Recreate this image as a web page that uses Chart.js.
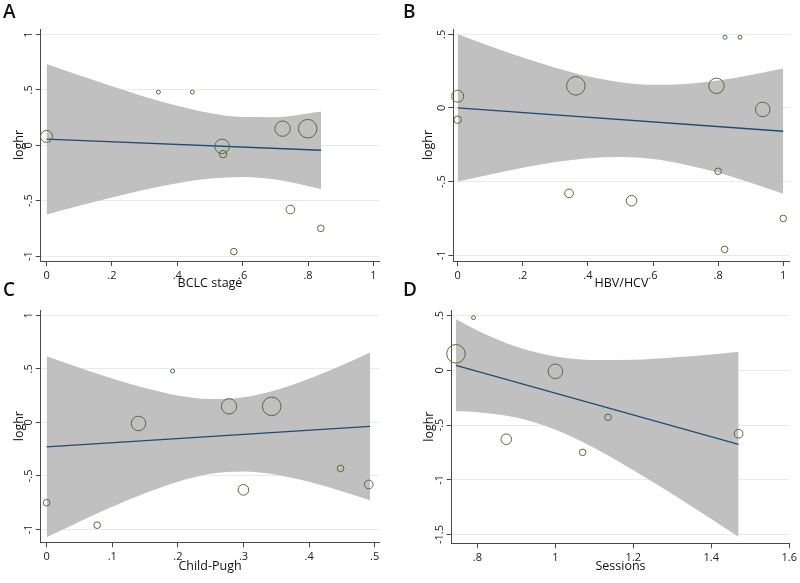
<!DOCTYPE html>
<html>
<head>
<meta charset="utf-8">
<script src="https://cdn.jsdelivr.net/npm/chart.js@4.4.1/dist/chart.umd.min.js"></script>
<style>
  body { margin: 0; background: #fff; width: 800px; height: 583px; position: relative; overflow: hidden; }
  .panel { position: absolute; }
  .tag { position: absolute; font: 600 19px "Open Sans", sans-serif; color: #111; line-height: 1; }
</style>
</head>
<body>
<div class="panel" style="left:0;top:0"><canvas id="chartA" width="400" height="290"></canvas></div>
<div class="panel" style="left:400px;top:0"><canvas id="chartB" width="400" height="290"></canvas></div>
<div class="panel" style="left:0;top:290px"><canvas id="chartC" width="400" height="293"></canvas></div>
<div class="panel" style="left:400px;top:290px"><canvas id="chartD" width="400" height="293"></canvas></div>
<div class="tag" style="left:3px;top:2px">A</div>
<div class="tag" style="left:403px;top:2px">B</div>
<div class="tag" style="left:3px;top:280px">C</div>
<div class="tag" style="left:403px;top:280px">D</div>
<script>
// ===== STUDY DATA (one entry per study) =====
const studyLoghr  = [0.48, 0.48, 0.15, 0.15, 0.08, -0.01, -0.08, -0.58, -0.63, -0.43, -0.75, -0.96];
const studyWeight = [4, 4, 86, 59, 36, 53, 14, 19, 28, 11, 11, 11];

// covariates (null = not reported)
const bclcStage = [0.342, 0.446, 0.799, 0.722, 0, 0.537, 0.54, 0.746, null, null, 0.839, 0.573];
const hbvHcv    = [0.821, 0.867, 0.363, 0.795, 0, 0.937, 0, 0.342, 0.534, 0.8, 1.0, 0.82];
const childPugh = [0.192, null, 0.343, 0.278, null, 0.14, null, 0.491, 0.3, 0.448, 0, 0.077];
const sessions  = [0.79, null, 0.745, null, null, 1.0, null, 1.47, 0.874, 1.135, 1.07, null];

// ===== FITTED LINES AND CONFIDENCE BANDS =====
const bclcFitX = [0, 0.84];
const bclcFitY = [0.055, -0.045];
const bclcBandX  = [0, 0.1, 0.2, 0.3, 0.4, 0.5, 0.6, 0.7, 0.84];
const bclcBandHi = [0.735, 0.632, 0.533, 0.439, 0.356, 0.291, 0.255, 0.254, 0.305];
const bclcBandLo = [-0.625, -0.546, -0.471, -0.401, -0.342, -0.301, -0.287, -0.31, -0.395];

const hbvFitX = [0, 1];
const hbvFitY = [0, -0.158];
const hbvBandX  = [0, 0.1, 0.2, 0.3, 0.4, 0.5, 0.6, 0.7, 0.8, 0.9, 1];
const hbvBandHi = [0.5, 0.419, 0.342, 0.273, 0.215, 0.175, 0.157, 0.163, 0.187, 0.224, 0.267];
const hbvBandLo = [-0.5, -0.451, -0.406, -0.367, -0.341, -0.333, -0.347, -0.385, -0.439, -0.508, -0.583];

const cpFitX = [0, 0.493];
const cpFitY = [-0.228, -0.037];
const cpBandX  = [0, 0.05, 0.1, 0.15, 0.2, 0.25, 0.3, 0.35, 0.4, 0.45, 0.493];
const cpBandHi = [0.617, 0.51, 0.411, 0.322, 0.252, 0.218, 0.234, 0.302, 0.408, 0.534, 0.653];
const cpBandLo = [-1.073, -0.928, -0.789, -0.662, -0.554, -0.48, -0.458, -0.488, -0.554, -0.642, -0.727];

const sesFitX = [0.745, 1.47];
const sesFitY = [0.045, -0.676];
const sesBandX  = [0.745, 0.8, 0.9, 1.0, 1.1, 1.2, 1.3, 1.4, 1.47];
const sesBandHi = [0.465, 0.363, 0.214, 0.126, 0.094, 0.096, 0.116, 0.144, 0.169];
const sesBandLo = [-0.375, -0.383, -0.432, -0.544, -0.71, -0.912, -1.13, -1.358, -1.521];

// ===== TICKS =====
const xTicksA = [0, 0.2, 0.4, 0.6, 0.8, 1];
const yTicksA = [-1, -0.5, 0, 0.5, 1];
const xTicksB = [0, 0.2, 0.4, 0.6, 0.8, 1];
const yTicksB = [-1, -0.5, 0, 0.5];
const xTicksC = [0, 0.1, 0.2, 0.3, 0.4, 0.5];
const yTicksC = [-1, -0.5, 0, 0.5, 1];
const xTicksD = [0.8, 1, 1.2, 1.4, 1.6];
const yTicksD = [-1.5, -1, -0.5, 0, 0.5];

const OLIVE = "#5b6a2f";
const NAVY = "#1f4a72";
const BAND = "#c0c0c0";
const AXIS = "#4a4a4a";
const GRID = "#e3ecee";
const FONT = "'Open Sans', sans-serif";

function stataLabel(v) {
    return String(+v.toFixed(2)).replace(/^(-?)0\./, "$1.");
}

function zip(xs, ys) {
    return xs.map((x, i) => ({ x: x, y: ys[i] }));
}

// y tick labels turned 90 degrees, Stata style, placed from the y scale
const verticalYLabels = {
    id: "verticalYLabels",
    afterDraw(chart) {
        const scale = chart.scales.y;
        const ctx = chart.ctx;
        ctx.save();
        ctx.font = "11px " + FONT;
        ctx.fillStyle = "#222";
        ctx.textAlign = "center";
        ctx.textBaseline = "middle";
        scale.ticks.forEach(t => {
            ctx.save();
            ctx.translate(scale.right - 11.5, scale.getPixelForValue(t.value));
            ctx.rotate(-Math.PI / 2);
            ctx.fillText(stataLabel(t.value), 0, 0);
            ctx.restore();
        });
        ctx.restore();
    }
};

function drawPanel(id, p) {
    const points = p.covariate
        .map((x, i) => x === null ? null : { x: x, y: studyLoghr[i], r: Math.sqrt(studyWeight[i]) })
        .filter(pt => pt);

    new Chart(document.getElementById(id), {
        type: "scatter",
        data: {
            datasets: [
                { type: "bubble", data: points, backgroundColor: "rgba(0,0,0,0)", borderColor: OLIVE, borderWidth: 1, clip: false },
                { type: "line", data: zip(p.fitX, p.fitY), borderColor: NAVY, borderWidth: 1.3, pointRadius: 0, fill: false },
                { type: "line", data: zip(p.bandX, p.bandHi), borderColor: "rgba(0,0,0,0)", borderWidth: 0, pointRadius: 0,
                  fill: "+1", backgroundColor: BAND, cubicInterpolationMode: "monotone" },
                { type: "line", data: zip(p.bandX, p.bandLo), borderColor: "rgba(0,0,0,0)", borderWidth: 0, pointRadius: 0,
                  fill: false, cubicInterpolationMode: "monotone" }
            ]
        },
        options: {
            responsive: false,
            animation: false,
            events: [],
            layout: { padding: { top: p.pad[0], right: p.pad[1], bottom: 0, left: 0 } },
            plugins: { legend: { display: false }, tooltip: { enabled: false } },
            scales: {
                x: {
                    type: "linear",
                    min: p.xRange[0], max: p.xRange[1],
                    afterFit: s => { s.height = p.xh; },
                    afterBuildTicks: s => { s.ticks = p.xTicks.map(v => ({ value: v })); },
                    border: { display: true, color: AXIS, width: 1 },
                    grid: { drawOnChartArea: false, drawTicks: true, tickLength: 5, tickColor: AXIS },
                    ticks: { callback: stataLabel, color: "#222", font: { family: FONT, size: 11 }, padding: 3, maxRotation: 0 },
                    title: { display: true, text: p.xTitle, color: "#111", font: { family: FONT, size: 12.5, lineHeight: 1 },
                             padding: { top: 0, bottom: p.xTitlePad } }
                },
                y: {
                    type: "linear",
                    min: p.yRange[0], max: p.yRange[1],
                    afterFit: s => { s.width = p.yw; },
                    afterBuildTicks: s => { s.ticks = p.yTicks.map(v => ({ value: v })); },
                    border: { display: true, color: AXIS, width: 1 },
                    grid: { color: GRID, lineWidth: 1, drawTicks: true, tickLength: 5, tickColor: AXIS },
                    ticks: { display: false },
                    title: { display: true, text: "loghr", color: "#111", font: { family: FONT, size: 12.5, lineHeight: 1 },
                             padding: { top: p.yTitlePad, bottom: 0 } }
                }
            }
        },
        plugins: [verticalYLabels]
    });
}

drawPanel("chartA", {
    covariate: bclcStage, fitX: bclcFitX, fitY: bclcFitY, bandX: bclcBandX, bandHi: bclcBandHi, bandLo: bclcBandLo,
    xTicks: xTicksA, yTicks: yTicksA, xRange: [-0.018, 1.018], yRange: [-1.045, 1.05],
    xTitle: "BCLC stage", pad: [29, 20.7], yw: 40.7, xh: 29, xTitlePad: 0.5, yTitlePad: 13
});
drawPanel("chartB", {
    covariate: hbvHcv, fitX: hbvFitX, fitY: hbvFitY, bandX: hbvBandX, bandHi: hbvBandHi, bandLo: hbvBandLo,
    xTicks: xTicksB, yTicks: yTicksB, xRange: [-0.0135, 1.02], yRange: [-1.039, 0.536],
    xTitle: "HBV/HCV", pad: [29, 10], yw: 53.3, xh: 29, xTitlePad: 0, yTitlePad: 22
});
drawPanel("chartC", {
    covariate: childPugh, fitX: cpFitX, fitY: cpFitY, bandX: cpBandX, bandHi: cpBandHi, bandLo: cpBandLo,
    xTicks: xTicksC, yTicks: yTicksC, xRange: [-0.009, 0.507], yRange: [-1.12, 1.05],
    xTitle: "Child-Pugh", pad: [20, 20.7], yw: 40.7, xh: 40.7, xTitlePad: 10, yTitlePad: 13
});
drawPanel("chartD", {
    covariate: sessions, fitX: sesFitX, fitY: sesFitY, bandX: sesBandX, bandHi: sesBandHi, bandLo: sesBandLo,
    xTicks: xTicksD, yTicks: yTicksD, xRange: [0.734, 1.6], yRange: [-1.58, 0.55],
    xTitle: "Sessions", pad: [20, 10.7], yw: 51.7, xh: 39.7, xTitlePad: 10, yTitlePad: 23
});
</script>
</body>
</html>
